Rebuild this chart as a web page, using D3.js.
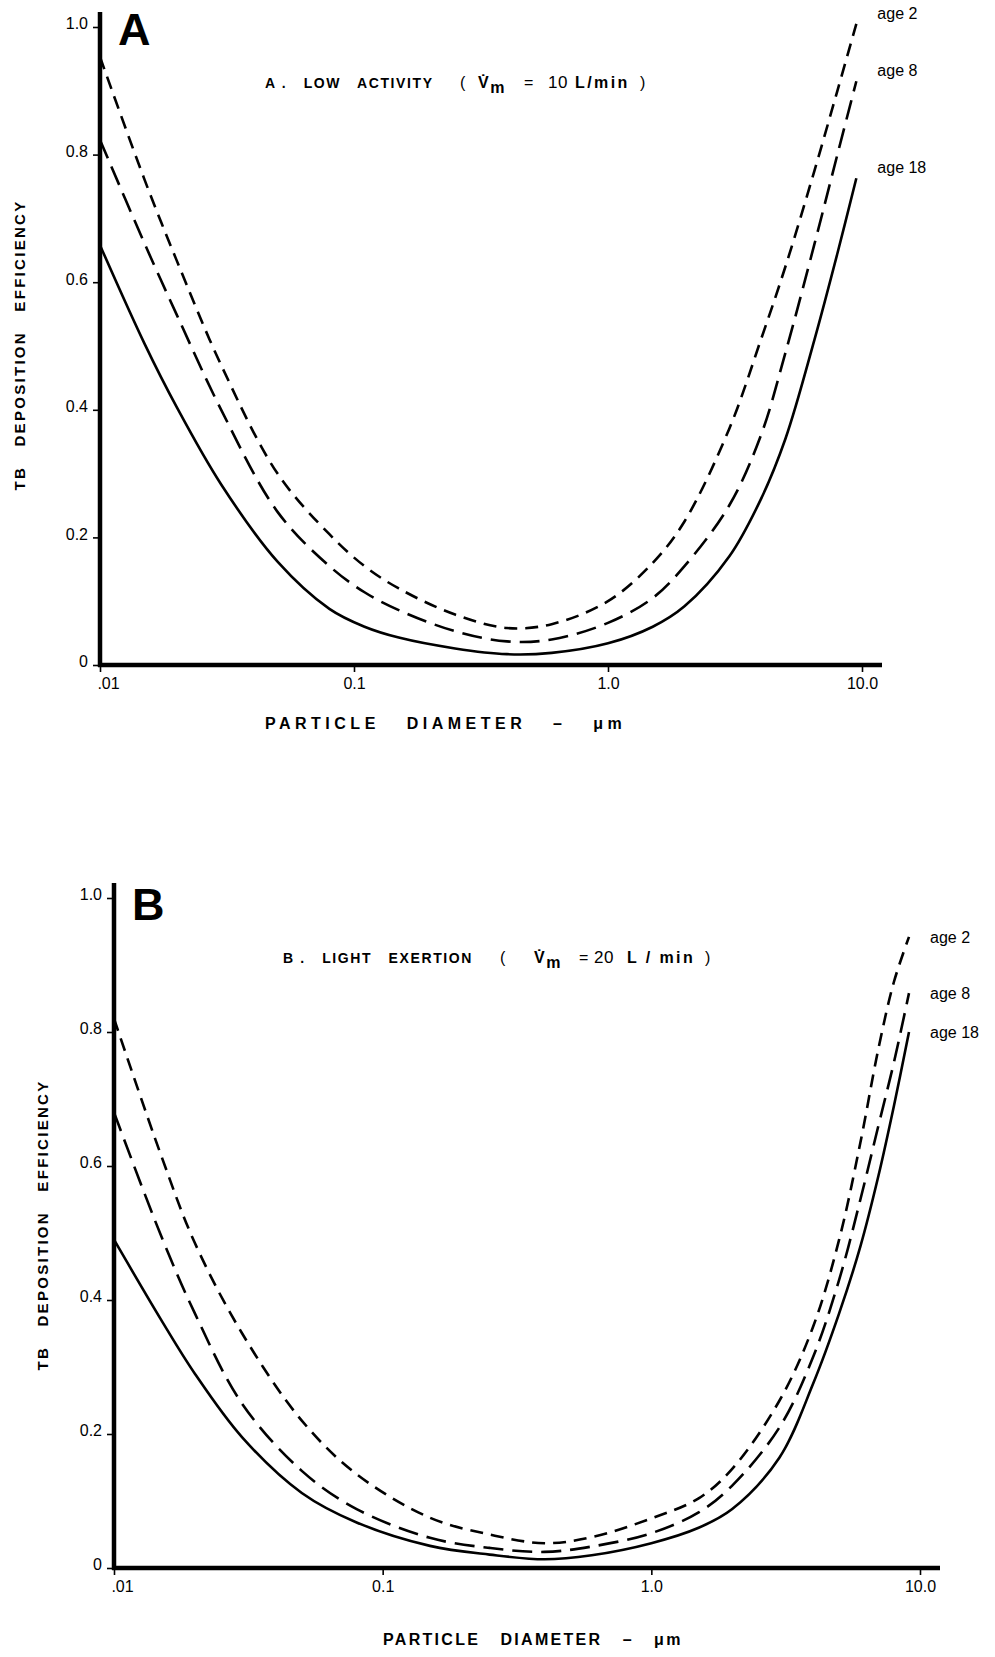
<!DOCTYPE html>
<html>
<head>
<meta charset="utf-8">
<script src="https://cdn.jsdelivr.net/npm/d3@7"></script>
<style>
  body { margin: 0; background: #fff; }
  svg { display: block; }
  text { font-family: "Liberation Sans", Arial, sans-serif; fill: #000; white-space: pre; }
</style>
</head>
<body>
<div id="chart"></div>
<script>
// tick labels shared by both panels
var xTicks = [0.01, 0.1, 1, 10];
var xTickLabels = [".01", "0.1", "1.0", "10.0"];
var yTicks = [0, 0.2, 0.4, 0.6, 0.8, 1.0];
var yTickLabels = ["0", "0.2", "0.4", "0.6", "0.8", "1.0"];
var ageLabels = ["age 2", "age 8", "age 18"];

// A. low activity, 10 L/min  (particle diameter in um -> TB deposition efficiency)
var diamA  = [0.01, 0.015, 0.02, 0.03, 0.05, 0.08, 0.11, 0.15, 0.25, 0.4, 0.6, 1.0, 1.5, 2, 3, 4, 5, 6.5, 8, 9.5];
var age2A  = [0.953, 0.76, 0.635, 0.47, 0.30, 0.205, 0.155, 0.12, 0.079, 0.058, 0.064, 0.10, 0.16, 0.225, 0.37, 0.51, 0.625, 0.775, 0.90, 1.005];
var age8A  = [0.823, 0.66, 0.55, 0.40, 0.24, 0.155, 0.114, 0.086, 0.053, 0.037, 0.04, 0.066, 0.105, 0.155, 0.25, 0.36, 0.49, 0.66, 0.80, 0.915];
var age18A = [0.658, 0.503, 0.405, 0.283, 0.162, 0.088, 0.06, 0.043, 0.026, 0.017, 0.019, 0.034, 0.06, 0.092, 0.17, 0.26, 0.355, 0.51, 0.645, 0.763];

// B. light exertion, 20 L/min
var diamB  = [0.01, 0.015, 0.02, 0.03, 0.05, 0.08, 0.15, 0.25, 0.4, 0.6, 1.0, 1.5, 2, 3, 4, 5, 6, 7, 8, 9.1];
var age2B  = [0.82, 0.615, 0.485, 0.35, 0.22, 0.14, 0.075, 0.05, 0.037, 0.046, 0.074, 0.104, 0.148, 0.25, 0.36, 0.49, 0.635, 0.775, 0.875, 0.942];
var age8B  = [0.68, 0.495, 0.38, 0.245, 0.145, 0.088, 0.045, 0.03, 0.024, 0.032, 0.052, 0.083, 0.123, 0.21, 0.315, 0.43, 0.55, 0.66, 0.755, 0.858];
var age18B = [0.49, 0.37, 0.29, 0.195, 0.112, 0.068, 0.033, 0.02, 0.013, 0.019, 0.037, 0.06, 0.088, 0.165, 0.275, 0.38, 0.48, 0.585, 0.69, 0.80];

var W = 995, H = 1657;
var svg = d3.select("#chart").append("svg")
    .attr("width", W)
    .attr("height", H)
    .attr("viewBox", "0 0 " + W + " " + H);

var dashes = ["13,8", "20,9", null];

function drawPanel(p) {
  var x = d3.scaleLog().domain([0.01, 10]).range([p.left, p.right]);
  var y = d3.scaleLinear().domain([0, 1]).range([p.bottom, p.top]);
  var g = svg.append("g");

  // y axis
  var yAxis = g.append("g")
      .attr("transform", "translate(" + x(0.01) + ",0)")
      .call(d3.axisLeft(y).tickValues(yTicks)
        .tickFormat(function(d, i) { return yTickLabels[i]; })
        .tickSize(7).tickPadding(5));
  yAxis.select(".domain").remove();
  yAxis.selectAll(".tick line").attr("stroke", "#000").attr("stroke-width", 1.6);
  yAxis.selectAll(".tick text")
      .attr("font-size", 16)
      .attr("font-family", "\"Liberation Sans\", Arial, sans-serif")
      .attr("dy", "0.12em");

  // x axis
  var xAxis = g.append("g")
      .attr("transform", "translate(0," + y(0) + ")")
      .call(d3.axisBottom(x).tickValues(xTicks)
        .tickFormat(function(d, i) { return xTickLabels[i]; })
        .tickSize(7).tickPadding(6));
  xAxis.select(".domain").remove();
  xAxis.selectAll(".tick line").attr("stroke", "#000").attr("stroke-width", 1.6);
  xAxis.selectAll(".tick text")
      .attr("font-size", 16)
      .attr("font-family", "\"Liberation Sans\", Arial, sans-serif")
      .attr("dx", function(d, i) { return i == 0 ? 8 : 0; });

  // heavy axis lines
  g.append("line")
      .attr("x1", x(0.01)).attr("x2", x(0.01))
      .attr("y1", y(0) + 2).attr("y2", y(1) - 15)
      .attr("stroke", "#000").attr("stroke-width", 4.5);
  g.append("line")
      .attr("x1", x(0.01) - 2).attr("x2", x(10) + 20)
      .attr("y1", y(0)).attr("y2", y(0))
      .attr("stroke", "#000").attr("stroke-width", 4.5);

  // curves
  var line = d3.line()
      .x(function(d) { return x(d[0]); })
      .y(function(d) { return y(d[1]); })
      .curve(d3.curveCatmullRom.alpha(0.5));

  p.series.forEach(function(vals, i) {
    var pts = p.diam.map(function(d, j) { return [d, vals[j]]; });
    g.append("path")
        .datum(pts)
        .attr("d", line)
        .attr("fill", "none")
        .attr("stroke", "#000")
        .attr("stroke-width", 2.6)
        .attr("stroke-dasharray", dashes[i]);
    var last = pts[pts.length - 1];
    g.append("text")
        .attr("x", x(last[0]) + 21)
        .attr("y", y(last[1]) + p.labelDy)
        .attr("font-size", 16)
        .text(ageLabels[i]);
  });

  // big panel letter
  g.append("text")
      .attr("x", x(0.01) + 18)
      .attr("y", p.top + p.letterDy)
      .attr("font-size", 45)
      .attr("font-weight", "bold")
      .text(p.letter);

  // title
  var t = g.append("text")
      .attr("y", p.titleY)
      .attr("font-size", 14)
      .attr("font-weight", "bold")
      .attr("letter-spacing", 1.6);
  t.append("tspan").attr("x", p.titleX).text(p.titleText);
  t.append("tspan").attr("x", p.tx[0]).attr("font-weight", "normal").attr("font-size", 16).text("(");
  t.append("tspan").attr("x", p.tx[1]).attr("font-size", 16).text("V\u0307");
  t.append("tspan").attr("dy", 5).attr("font-size", 16).text("m");
  t.append("tspan").attr("x", p.tx[2]).attr("dy", -5).attr("font-weight", "normal").attr("font-size", 16).text("=");
  t.append("tspan").attr("x", p.tx[3]).attr("font-weight", "normal").attr("font-size", 17).attr("letter-spacing", 0.5).text(p.flow);
  t.append("tspan").attr("x", p.tx[4]).attr("font-size", 16).attr("letter-spacing", 2.4).text(p.unit);
  t.append("tspan").attr("x", p.tx[5]).attr("font-weight", "normal").attr("font-size", 16).text(")");

  // axis titles
  g.append("text")
      .attr("transform", "translate(" + p.yLabelX + "," + p.yLabelY + ") rotate(-90)")
      .attr("text-anchor", "middle")
      .attr("font-size", 15)
      .attr("font-weight", "bold")
      .attr("letter-spacing", 2.3)
      .text("TB   DEPOSITION   EFFICIENCY");
  g.append("text")
      .attr("x", p.xLabelX)
      .attr("y", p.xLabelY)
      .attr("font-size", 16)
      .attr("font-weight", "bold")
      .attr("letter-spacing", p.xLabelSpacing)
      .text("PARTICLE   DIAMETER   \u2013   \u03bcm");
}

drawPanel({
  letter: "A", left: 100, right: 862, top: 27, bottom: 665,
  diam: diamA, series: [age2A, age8A, age18A], labelDy: -5,
  letterDy: 18, titleX: 265, titleY: 88,
  titleText: "A .   LOW   ACTIVITY", flow: "10", unit: "L/min",
  tx: [460, 478, 524, 548, 575, 640],
  yLabelX: 25, yLabelY: 345, xLabelX: 265, xLabelY: 729, xLabelSpacing: 4.5
});

drawPanel({
  letter: "B", left: 114, right: 920, top: 898, bottom: 1568,
  diam: diamB, series: [age2B, age8B, age18B], labelDy: 6,
  letterDy: 22, titleX: 283, titleY: 963,
  titleText: "B .   LIGHT   EXERTION", flow: "20", unit: "L / min",
  tx: [500, 534, 579, 594, 627, 705],
  yLabelX: 48, yLabelY: 1225, xLabelX: 383, xLabelY: 1645, xLabelSpacing: 2.3
});
</script>
</body>
</html>
